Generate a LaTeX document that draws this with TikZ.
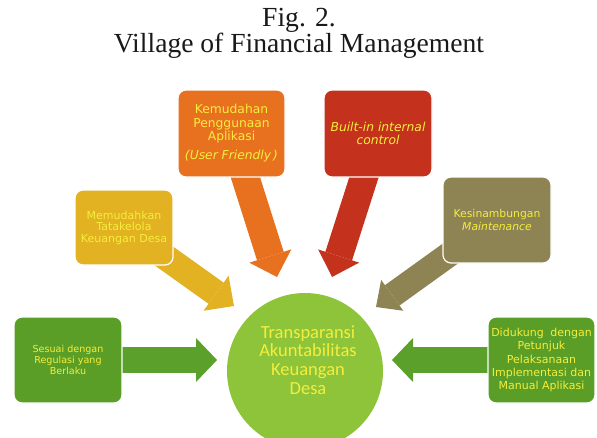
\documentclass[tikz,border=0pt]{standalone}
\usepackage{fontspec}
\setmainfont{Liberation Serif}
\newfontfamily\boxfont{DejaVu Sans}
\newfontfamily\circfont{Carlito}
\usetikzlibrary{arrows.meta}
\pgfdeclarelayer{bg}
\pgfsetlayers{bg,main}
\definecolor{corange}{HTML}{E8711F}
\definecolor{cred}{HTML}{C4321E}
\definecolor{cyellow}{HTML}{E2B222}
\definecolor{colive}{HTML}{8E8352}
\definecolor{cgreen}{HTML}{5A9E27}
\definecolor{cgreenarr}{HTML}{5AA02A}
\definecolor{ccircle}{HTML}{8DC43A}
\definecolor{txtyel}{HTML}{F4EE3C}
\tikzset{
  box/.style={rounded corners=8pt, draw=white, line width=1.2pt, align=center,
    text=txtyel, inner sep=0pt},
  fatarrow/.style n args={4}{draw=#1, line width=#2,
    -{Triangle[width=#3,length=#4,line width=0pt]}},
}
\begin{document}
\begin{tikzpicture}[x=1pt,y=-1pt]
\clip (0,0) rectangle (597,437);
% title
\node[anchor=base, text=black!90, font=\fontsize{27.6}{27}\selectfont] (t1) at (299,26) {Fig. 2.};
\node[anchor=base, text=black!90, font=\fontsize{27.6}{27}\selectfont] (t2) at (299,52) {Village of Financial Management};
% boxes
\node[box, fill=corange, minimum width=107pt, minimum height=87pt,
  font=\boxfont\fontsize{12.3}{13.5}\selectfont] (kem) at (231.5,133.5)
  {Kemudahan\\Penggunaan\\Aplikasi\\[5.5pt]{\itshape(User Friendly\,)}};
\node[box, fill=cred, minimum width=108pt, minimum height=87pt,
  font=\boxfont\itshape\fontsize{12.3}{13}\selectfont] (bui) at (378,133.5)
  {Built-in internal\\control};
\node[box, fill=cyellow, minimum width=98pt, minimum height=75pt,
  font=\boxfont\fontsize{11}{11.5}\selectfont] (mem) at (124,227.5)
  {Memudahkan\\Tatakelola\\Keuangan Desa};
\node[box, fill=colive, minimum width=108pt, minimum height=86pt,
  font=\boxfont\fontsize{10.8}{13.5}\selectfont] (kes) at (497,220)
  {Kesinambungan\\{\itshape Maintenance}};
\node[box, fill=cgreen, minimum width=108pt, minimum height=86pt,
  font=\boxfont\fontsize{9.6}{11}\selectfont] (ses) at (68,360)
  {Sesuai dengan\\Regulasi yang\\Berlaku};
\node[box, fill=cgreen, minimum width=107pt, minimum height=86pt,
  font=\boxfont\fontsize{11}{13.3}\selectfont] (did) at (541.5,360)
  {Didukung\hspace{0.6em}dengan\\Petunjuk\\Pelaksanaan\\Implementasi dan\\Manual Aplikasi};
% circle
\node[circle, fill=ccircle, minimum size=156pt, inner sep=0pt] (c) at (305,371) {};
\node[align=center, text=txtyel, font=\circfont\fontsize{18.5}{18.7}\selectfont] (ct) at (308,360)
  {Transparansi\\Akuntabilitas\\Keuangan\\Desa};
% arrow tips
\coordinate (tkem) at (277,277);
\coordinate (tbui) at (332,277);
\coordinate (tmem) at (234,306);
\coordinate (tkes) at (376,307);
\coordinate (tses) at (217,360);
\coordinate (tdid) at (392,360);
\begin{pgfonlayer}{bg}
\fill[white] (0,0) rectangle (597,437);
\draw[fatarrow={corange}{28pt}{44pt}{22pt}] (kem.center) -- (tkem);
\draw[fatarrow={cred}{28pt}{43pt}{22pt}] (bui.center) -- (tbui);
\draw[fatarrow={cyellow}{26pt}{43pt}{22pt}] (mem.center) -- (tmem);
\draw[fatarrow={colive}{25pt}{38pt}{20pt}] (kes.center) -- (tkes);
\draw[fatarrow={cgreenarr}{26pt}{44pt}{21pt}] (ses.center) -- (tses);
\draw[fatarrow={cgreenarr}{26pt}{44pt}{21pt}] (did.center) -- (tdid);
\end{pgfonlayer}
\end{tikzpicture}
\end{document}
